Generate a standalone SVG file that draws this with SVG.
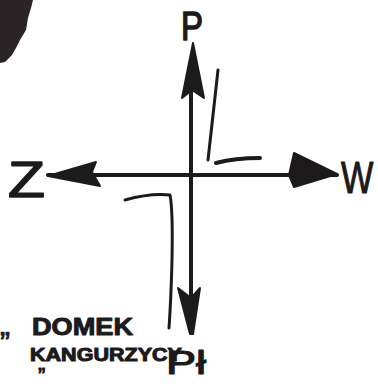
<svg xmlns="http://www.w3.org/2000/svg" width="378" height="389" viewBox="0 0 378 389">
<style>
.ln{stroke:#1c1a1b;fill:none;stroke-linecap:round;stroke-linejoin:round}
.hd{fill:#1c1a1b;stroke:#1c1a1b;stroke-width:2;stroke-linejoin:round}
.t{font-family:"Liberation Sans",Arial,sans-serif;fill:#1c1a1b;stroke:#1c1a1b;stroke-linejoin:round}
</style>
<rect width="378" height="389" fill="#ffffff"/>
<path d="M0,0 L33,0 L31,8 L28,18 L26,30 L20,40 L16,48 L12,55 L5,62 L0,63 Z" fill="#2a2426"/>
<g id="connectors">
<line class="ln" x1="48" y1="175" x2="337" y2="175" stroke-width="4"/>
<line class="ln" x1="191" y1="60" x2="191" y2="320" stroke-width="4"/>
<path class="ln" d="M218,70 L208,160" stroke-width="3"/>
<path class="ln" d="M216,163 Q235,158 260,158" stroke-width="4"/>
<path class="ln" d="M125,200 Q150,193 170,195 Q173,210 172,260 Q171,300 169,328" stroke-width="3"/>
</g>
<g id="arrow-n"><path class="hd" d="M193,43 L204,98 L192,90 L182,98 Z"/></g>
<g id="arrow-s"><path class="hd" d="M178,288 L191,298 L200,288 L193,334 L190,334 Z"/></g>
<g id="arrow-w"><path class="hd" d="M48,176 L96,162 L92,172 L100,186 Z"/></g>
<g id="arrow-e"><path class="hd" d="M337,174 L294,153 L289,175 L294,187 Z"/></g>
<g id="node-p"><text class="t" x="181" y="40" font-size="40" stroke-width="1.5" textLength="22" lengthAdjust="spacingAndGlyphs">P</text></g>
<g id="node-z"><text class="t" x="8" y="197" font-size="50" stroke-width="1.5" textLength="37" lengthAdjust="spacingAndGlyphs">Z</text></g>
<g id="node-w"><text class="t" transform="translate(341,193) scale(0.78,1)" x="0" y="0" font-size="44" stroke-width="1">W</text></g>
<g id="node-s"><text class="t" x="166" y="374" font-size="34" stroke-width="1.2" textLength="40" lengthAdjust="spacingAndGlyphs">Pł</text></g>
<g id="label">
<text class="t" x="0" y="335" font-size="30" stroke-width="1">„</text>
<text class="t" x="32" y="335" font-size="24" font-weight="bold" stroke-width="1" textLength="101" lengthAdjust="spacingAndGlyphs">DOMEK</text>
<text class="t" x="30" y="361" font-size="18" font-weight="bold" stroke-width="1" textLength="152" lengthAdjust="spacingAndGlyphs">KANGURZYCY</text>
<text class="t" x="38" y="383" font-size="22" stroke-width="1">”</text>
</g>
</svg>
